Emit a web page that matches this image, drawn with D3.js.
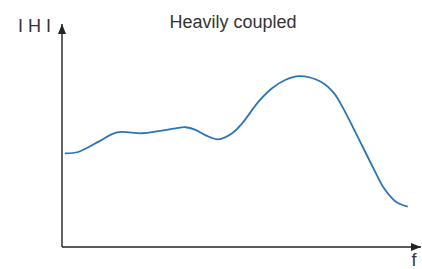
<!DOCTYPE html>
<html>
<head>
<meta charset="utf-8">
<script src="https://cdn.jsdelivr.net/npm/d3@7"></script>
<style>
  body { margin: 0; background: #fff; }
  text { font-family: "Liberation Sans", Arial, sans-serif; fill: #333; }
</style>
</head>
<body>
<div id="chart"></div>
<script>
// curve, arbitrary units (0-100 both ways)
const freq = [0.8, 4.5, 10.6, 15.3, 22.3, 26.9, 31.6, 34.4, 37.2, 39.9, 43.5, 47.4,
    50.2, 54.8, 58.6, 62.3, 66.0, 72.1, 75.8, 78.6, 81.4, 84.2, 87.0, 89.7, 93.0, 96.3];
const magnitude = [42.0, 42.6, 47.6, 51.4, 51.0, 52.0, 53.2, 53.7, 52.5, 50.2, 48.3, 51.0,
    55.5, 65.3, 71.3, 75.0, 76.6, 74.1, 68.9, 61.4, 52.5, 43.5, 34.5, 26.3, 20.3, 18.1];
const titleText = 'Heavily coupled';
const yLabel = 'I H I';
const xLabel = 'f';

const width = 422, height = 269;
const margin = { top: 24, right: 1, bottom: 22, left: 62 };

const svg = d3.select('#chart')
    .append('svg')
    .attr('width', width)
    .attr('height', height);

const x = d3.scaleLinear().domain([0, 100]).range([margin.left, width - margin.right]);
const y = d3.scaleLinear().domain([0, 100]).range([height - margin.bottom, margin.top]);

const data = freq.map((f, i) => ({ f: f, m: magnitude[i] }));

// arrow head
svg.append('defs')
    .append('marker')
    .attr('id', 'arrow')
    .attr('viewBox', '0 0 10 8')
    .attr('refX', 10)
    .attr('refY', 4)
    .attr('markerWidth', 10)
    .attr('markerHeight', 8)
    .attr('markerUnits', 'userSpaceOnUse')
    .attr('orient', 'auto')
    .append('path')
    .attr('d', 'M0,0 L10,4 L0,8 Z')
    .style('fill', '#222');

// axes
svg.append('line')
    .attr('x1', x(0)).attr('y1', y(0))
    .attr('x2', x(0)).attr('y2', y(100))
    .style('stroke', '#222')
    .style('stroke-width', 1.4)
    .attr('marker-end', 'url(#arrow)');

svg.append('line')
    .attr('x1', x(0)).attr('y1', y(0))
    .attr('x2', x(100)).attr('y2', y(0))
    .style('stroke', '#222')
    .style('stroke-width', 1.4)
    .attr('marker-end', 'url(#arrow)');

// response curve
const line = d3.line()
    .x(d => x(d.f))
    .y(d => y(d.m))
    .curve(d3.curveCatmullRom.alpha(0.5));

svg.append('path')
    .datum(data)
    .attr('d', line)
    .style('fill', 'none')
    .style('stroke', '#2a74b8')
    .style('stroke-width', 1.8);

// labels
svg.append('text')
    .attr('x', 233)
    .attr('y', 28)
    .style('text-anchor', 'middle')
    .style('font-size', '18px')
    .text(titleText);

svg.append('text')
    .attr('x', 18)
    .attr('y', 32)
    .style('font-size', '18px')
    .text(yLabel);

svg.append('text')
    .attr('x', 414)
    .attr('y', 266)
    .style('text-anchor', 'middle')
    .style('font-size', '18px')
    .text(xLabel);
</script>
</body>
</html>
